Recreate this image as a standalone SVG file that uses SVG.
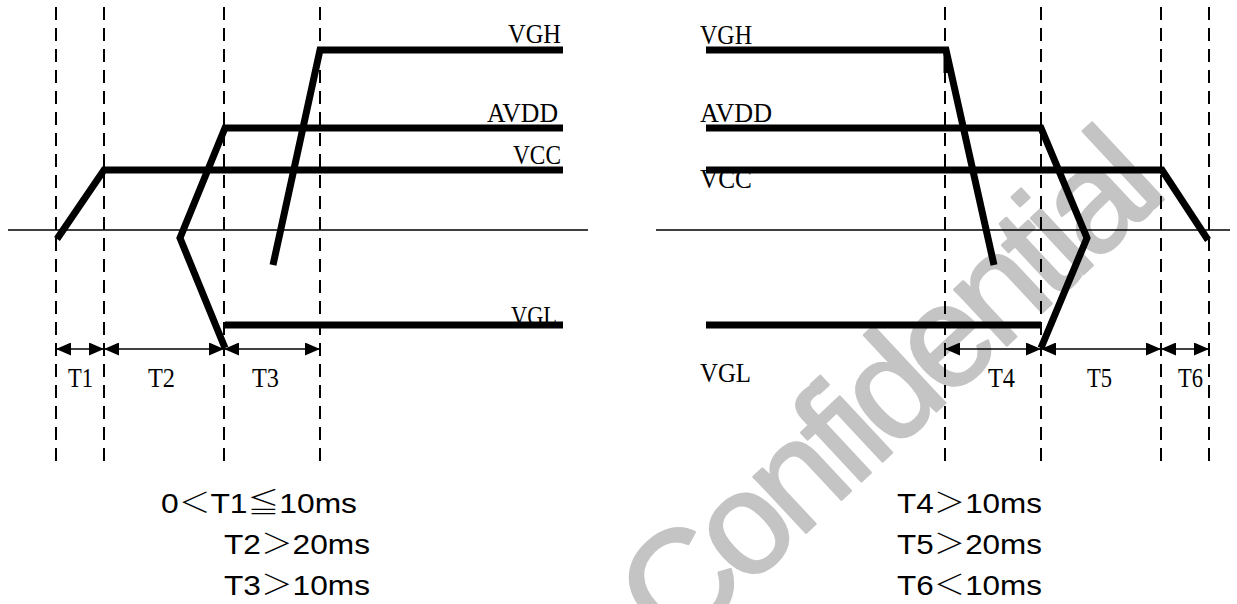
<svg xmlns="http://www.w3.org/2000/svg" width="1237" height="604" viewBox="0 0 1237 604">
<defs>
<style>
.sig{stroke:#000;stroke-width:7;fill:none;stroke-linecap:butt;stroke-linejoin:miter}
.dash{stroke:#000;stroke-width:2;stroke-dasharray:13 8}
.axis{stroke:#000;stroke-width:1.5}
.dim{stroke:#000;stroke-width:1.5;marker-start:url(#ah);marker-end:url(#ah)}
.lbl{font-family:"Liberation Serif","Times New Roman",serif;font-size:27px;fill:#000}
.cond{font-family:"Liberation Sans",Arial,"Noto Sans CJK SC",sans-serif;font-size:28px;fill:#000}
.cj{font-family:"Noto Sans CJK SC","Noto Sans CJK JP",sans-serif;font-weight:200}
.wm{font-family:"Liberation Sans",Arial,sans-serif;font-size:145px;letter-spacing:-8px;fill:#c4c4c4;stroke:#c4c4c4;stroke-width:2.5;stroke-linejoin:round}
</style>
<marker id="ah" viewBox="0 0 15 13" refX="15" refY="6.5" markerWidth="15" markerHeight="13" markerUnits="userSpaceOnUse" orient="auto-start-reverse"><path d="M0,0 L15,6.5 L0,13 z" fill="#000"/></marker>
</defs>
<rect width="1237" height="604" fill="#fff"/>
<g id="watermark"><text class="wm" transform="translate(675,655) rotate(-43)">Confidential</text></g>
<g id="grid">
<path class="axis" d="M8,230 H588 M656,230 H1230"/>
<path class="dash" d="M56,7 V463 M104,7 V463 M224,7 V463 M320,7 V463 M945,7 V463 M1041,7 V463 M1161,7 V463 M1209,7 V463"/>
</g>
<g id="power-on">
<g id="on-vgh"><path class="sig" d="M273,265 L320,50 H563"/><text class="lbl" x="508" y="43" textLength="53" lengthAdjust="spacingAndGlyphs">VGH</text></g>
<g id="on-avdd"><path class="sig" d="M563,128 H225 L180,238 L225,348"/><text class="lbl" x="487" y="122" textLength="71" lengthAdjust="spacingAndGlyphs">AVDD</text></g>
<g id="on-vcc"><path class="sig" d="M57,239 L104,170 H563"/><text class="lbl" x="513" y="164" textLength="48" lengthAdjust="spacingAndGlyphs">VCC</text></g>
<g id="on-vgl"><text class="lbl" x="511" y="325" textLength="46" lengthAdjust="spacingAndGlyphs">VGL</text><path class="sig" d="M225,325 H563"/></g>
</g>
<g id="power-off">
<g id="off-vgh"><path class="sig" d="M706,50 H946 L994,265"/><path d="M946,50 V73" stroke="#000" stroke-width="5"/><text class="lbl" x="700" y="44" textLength="52" lengthAdjust="spacingAndGlyphs">VGH</text></g>
<g id="off-avdd"><path class="sig" d="M706,128 H1041 L1087,238 L1041,348"/><text class="lbl" x="700" y="122" textLength="72" lengthAdjust="spacingAndGlyphs">AVDD</text></g>
<g id="off-vcc"><text class="lbl" x="700" y="188" textLength="52" lengthAdjust="spacingAndGlyphs">VCC</text><path class="sig" d="M706,170 H1162 L1208,240"/></g>
<g id="off-vgl"><path class="sig" d="M706,325 H1041"/><text class="lbl" x="700" y="382" textLength="51" lengthAdjust="spacingAndGlyphs">VGL</text></g>
</g>
<g id="connectors">
<line class="dim" x1="56" y1="349" x2="104" y2="349"/>
<line class="dim" x1="104" y1="349" x2="224" y2="349"/>
<line class="dim" x1="224" y1="349" x2="320" y2="349"/>
<line class="dim" x1="945" y1="349" x2="1041" y2="349"/>
<line class="dim" x1="1041" y1="349" x2="1161" y2="349"/>
<line class="dim" x1="1161" y1="349" x2="1209" y2="349"/>
</g>
<g id="interval-labels">
<text class="lbl" x="68" y="387" textLength="25" lengthAdjust="spacingAndGlyphs">T1</text>
<text class="lbl" x="148" y="387" textLength="27" lengthAdjust="spacingAndGlyphs">T2</text>
<text class="lbl" x="252" y="387" textLength="27" lengthAdjust="spacingAndGlyphs">T3</text>
<text class="lbl" x="988" y="387" textLength="27" lengthAdjust="spacingAndGlyphs">T4</text>
<text class="lbl" x="1087" y="387" textLength="25" lengthAdjust="spacingAndGlyphs">T5</text>
<text class="lbl" x="1178" y="387" textLength="25" lengthAdjust="spacingAndGlyphs">T6</text>
</g>
<g id="conditions">
<text class="cond" x="161" y="513" textLength="196" lengthAdjust="spacingAndGlyphs">0<tspan class="cj">＜</tspan>T1<tspan class="cj">≦</tspan>10ms</text>
<text class="cond" x="224" y="554" textLength="146" lengthAdjust="spacingAndGlyphs">T2<tspan class="cj">＞</tspan>20ms</text>
<text class="cond" x="224" y="595" textLength="146" lengthAdjust="spacingAndGlyphs">T3<tspan class="cj">＞</tspan>10ms</text>
<text class="cond" x="897" y="513" textLength="145" lengthAdjust="spacingAndGlyphs">T4<tspan class="cj">＞</tspan>10ms</text>
<text class="cond" x="897" y="554" textLength="145" lengthAdjust="spacingAndGlyphs">T5<tspan class="cj">＞</tspan>20ms</text>
<text class="cond" x="897" y="595" textLength="145" lengthAdjust="spacingAndGlyphs">T6<tspan class="cj">＜</tspan>10ms</text>
</g>
</svg>
